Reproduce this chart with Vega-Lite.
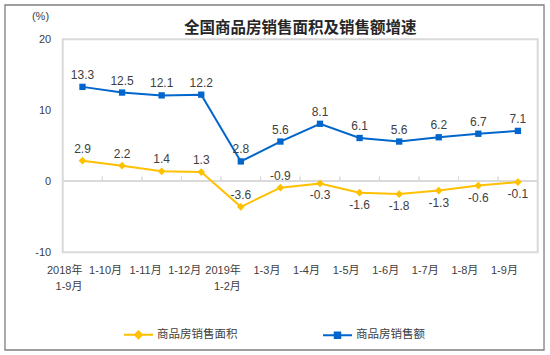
{
  "$schema": "https://vega.github.io/schema/vega-lite/v6.json",
  "width": 475,
  "height": 213,
  "autosize": {"type": "none"},
  "padding": {"left": 62.7, "top": 39.3, "right": 12.3, "bottom": 102.7},
  "background": "white",
  "config": {
    "view": {"stroke": "#d9d9d9", "strokeWidth": 2},
    "font": "Liberation Sans, Noto Sans CJK SC"
  },
  "title": {
    "text": "全国商品房销售面积及销售额增速",
    "font": "Noto Sans CJK SC",
    "fontSize": 15.5,
    "fontWeight": "bold",
    "color": "#262626",
    "anchor": "middle",
    "frame": "group",
    "offset": 4,
    "dy": 36
  },
  "data": {
    "values": [
      {"period": "2018年\n1-9月", "series": "商品房销售面积", "value": 2.9},
      {"period": "1-10月", "series": "商品房销售面积", "value": 2.2},
      {"period": "1-11月", "series": "商品房销售面积", "value": 1.4},
      {"period": "1-12月", "series": "商品房销售面积", "value": 1.3},
      {"period": "2019年\n1-2月", "series": "商品房销售面积", "value": -3.6},
      {"period": "1-3月", "series": "商品房销售面积", "value": -0.9},
      {"period": "1-4月", "series": "商品房销售面积", "value": -0.3},
      {"period": "1-5月", "series": "商品房销售面积", "value": -1.6},
      {"period": "1-6月", "series": "商品房销售面积", "value": -1.8},
      {"period": "1-7月", "series": "商品房销售面积", "value": -1.3},
      {"period": "1-8月", "series": "商品房销售面积", "value": -0.6},
      {"period": "1-9月", "series": "商品房销售面积", "value": -0.1},
      {"period": "2018年\n1-9月", "series": "商品房销售额", "value": 13.3},
      {"period": "1-10月", "series": "商品房销售额", "value": 12.5},
      {"period": "1-11月", "series": "商品房销售额", "value": 12.1},
      {"period": "1-12月", "series": "商品房销售额", "value": 12.2},
      {"period": "2019年\n1-2月", "series": "商品房销售额", "value": 2.8},
      {"period": "1-3月", "series": "商品房销售额", "value": 5.6},
      {"period": "1-4月", "series": "商品房销售额", "value": 8.1},
      {"period": "1-5月", "series": "商品房销售额", "value": 6.1},
      {"period": "1-6月", "series": "商品房销售额", "value": 5.6},
      {"period": "1-7月", "series": "商品房销售额", "value": 6.2},
      {"period": "1-8月", "series": "商品房销售额", "value": 6.7},
      {"period": "1-9月", "series": "商品房销售额", "value": 7.1}
    ]
  },
  "resolve": {"scale": {"x": "independent", "y": "independent"}},
  "layer": [
    {
      "data": {"values": [{}]},
      "mark": {"type": "rect", "filled": false, "color": "#7f7f7f", "strokeWidth": 1.3},
      "encoding": {
        "x": {"datum": -0.1215, "type": "quantitative", "scale": {"domain": [0, 1]}, "axis": null},
        "x2": {"datum": 1.0133},
        "y": {"datum": 1.161, "type": "quantitative", "scale": {"domain": [0, 1]}, "axis": null},
        "y2": {"datum": -0.4587}
      }
    },
    {
      "layer": [
        {
          "mark": {"type": "rule", "color": "#d9d9d9", "strokeWidth": 1.5},
          "encoding": {"y": {"datum": 0, "type": "quantitative"}}
        },
        {
          "mark": {"type": "rule", "color": "#d9d9d9", "strokeWidth": 1},
          "encoding": {
            "x": {"field": "period", "type": "nominal", "bandPosition": 0},
            "y": {"datum": 0, "type": "quantitative"},
            "y2": {"datum": 0.66}
          }
        },
        {
          "mark": {"type": "line", "strokeWidth": 2},
          "encoding": {
            "x": {
              "field": "period",
              "type": "nominal",
              "bandPosition": 0.5,
              "scale": {
                "type": "band",
                "paddingInner": 0,
                "paddingOuter": 0,
                "domain": ["2018年\n1-9月", "1-10月", "1-11月", "1-12月", "2019年\n1-2月", "1-3月", "1-4月", "1-5月", "1-6月", "1-7月", "1-8月", "1-9月"]
              },
              "axis": {
                "title": null,
                "domain": false,
                "ticks": false,
                "grid": false,
                "labelAngle": 0,
                "labelExpr": "split(datum.label, '\\n')",
                "labelPadding": 18,
                "labelFontSize": 11,
                "labelColor": "#404040",
                "labelLineHeight": 16
              }
            },
            "y": {
              "field": "value",
              "type": "quantitative",
              "scale": {"domain": [-10, 20], "nice": false, "zero": false},
              "axis": {
                "values": [-10, 0, 10, 20],
                "labelExpr": "'' + datum.value",
                "grid": false,
                "domain": false,
                "ticks": false,
                "labelPadding": 12,
                "labelFontSize": 11,
                "labelColor": "#404040",
                "title": "(%)",
                "titleAngle": 0,
                "titleX": -22.7,
                "titleY": -23.3,
                "titleAlign": "center",
                "titleBaseline": "middle",
                "titleFontWeight": "normal",
                "titleFontSize": 11,
                "titleColor": "#404040"
              }
            },
            "color": {
              "field": "series",
              "type": "nominal",
              "scale": {"domain": ["商品房销售面积", "商品房销售额"], "range": ["#FFC000", "#0066CC"]},
              "legend": {
                "title": null,
                "orient": "none",
                "legendX": 60.3,
                "legendY": 280,
                "direction": "horizontal",
                "columns": 2,
                "columnPadding": 81,
                "symbolSize": 841,
                "symbolStrokeWidth": 2,
                "labelFontSize": 11.5,
                "labelFont": "Noto Sans CJK SC",
                "labelColor": "#404040",
                "labelOffset": 3,
                "encode": {
                  "symbols": {
                    "update": {
                      "shape": {"signal": "datum.value === '商品房销售面积' ? 'M-1,0H1M-0.24,0L0,-0.24L0.24,0L0,0.24Z' : 'M-1,0H1M-0.19,-0.19H0.19V0.19H-0.19Z'"},
                      "fill": {"scale": "color", "field": "value"},
                      "stroke": {"scale": "color", "field": "value"},
                      "strokeWidth": {"value": 2},
                      "opacity": {"value": 1}
                    }
                  }
                }
              }
            }
          }
        },
        {
          "transform": [{"filter": {"field": "series", "equal": "商品房销售面积"}}],
          "mark": {"type": "point", "filled": true, "opacity": 1, "shape": "diamond", "size": 60, "color": "#FFC000"},
          "encoding": {
            "x": {"field": "period", "type": "nominal", "bandPosition": 0.5},
            "y": {"field": "value", "type": "quantitative"}
          }
        },
        {
          "transform": [{"filter": {"field": "series", "equal": "商品房销售额"}}],
          "mark": {"type": "point", "filled": true, "opacity": 1, "shape": "square", "size": 40, "color": "#0066CC"},
          "encoding": {
            "x": {"field": "period", "type": "nominal", "bandPosition": 0.5},
            "y": {"field": "value", "type": "quantitative"}
          }
        },
        {
          "transform": [{"filter": {"field": "series", "equal": "商品房销售额"}}],
          "mark": {"type": "text", "dy": -12, "fontSize": 12, "color": "#404040", "baseline": "middle"},
          "encoding": {
            "x": {"field": "period", "type": "nominal", "bandPosition": 0.5},
            "y": {"field": "value", "type": "quantitative"},
            "text": {"field": "value", "type": "nominal"}
          }
        },
        {
          "transform": [
            {"filter": {"field": "series", "equal": "商品房销售面积"}},
            {"filter": {"field": "period", "oneOf": ["2018年\n1-9月", "1-10月", "1-11月", "1-12月", "2019年\n1-2月", "1-3月"]}}
          ],
          "mark": {"type": "text", "dy": -12, "fontSize": 12, "color": "#404040", "baseline": "middle"},
          "encoding": {
            "x": {"field": "period", "type": "nominal", "bandPosition": 0.5},
            "y": {"field": "value", "type": "quantitative"},
            "text": {"field": "value", "type": "nominal"}
          }
        },
        {
          "transform": [
            {"filter": {"field": "series", "equal": "商品房销售面积"}},
            {"filter": {"field": "period", "oneOf": ["1-4月", "1-5月", "1-6月", "1-7月", "1-8月", "1-9月"]}}
          ],
          "mark": {"type": "text", "dy": 12, "fontSize": 12, "color": "#404040", "baseline": "middle"},
          "encoding": {
            "x": {"field": "period", "type": "nominal", "bandPosition": 0.5},
            "y": {"field": "value", "type": "quantitative"},
            "text": {"field": "value", "type": "nominal"}
          }
        }
      ]
    }
  ]
}
